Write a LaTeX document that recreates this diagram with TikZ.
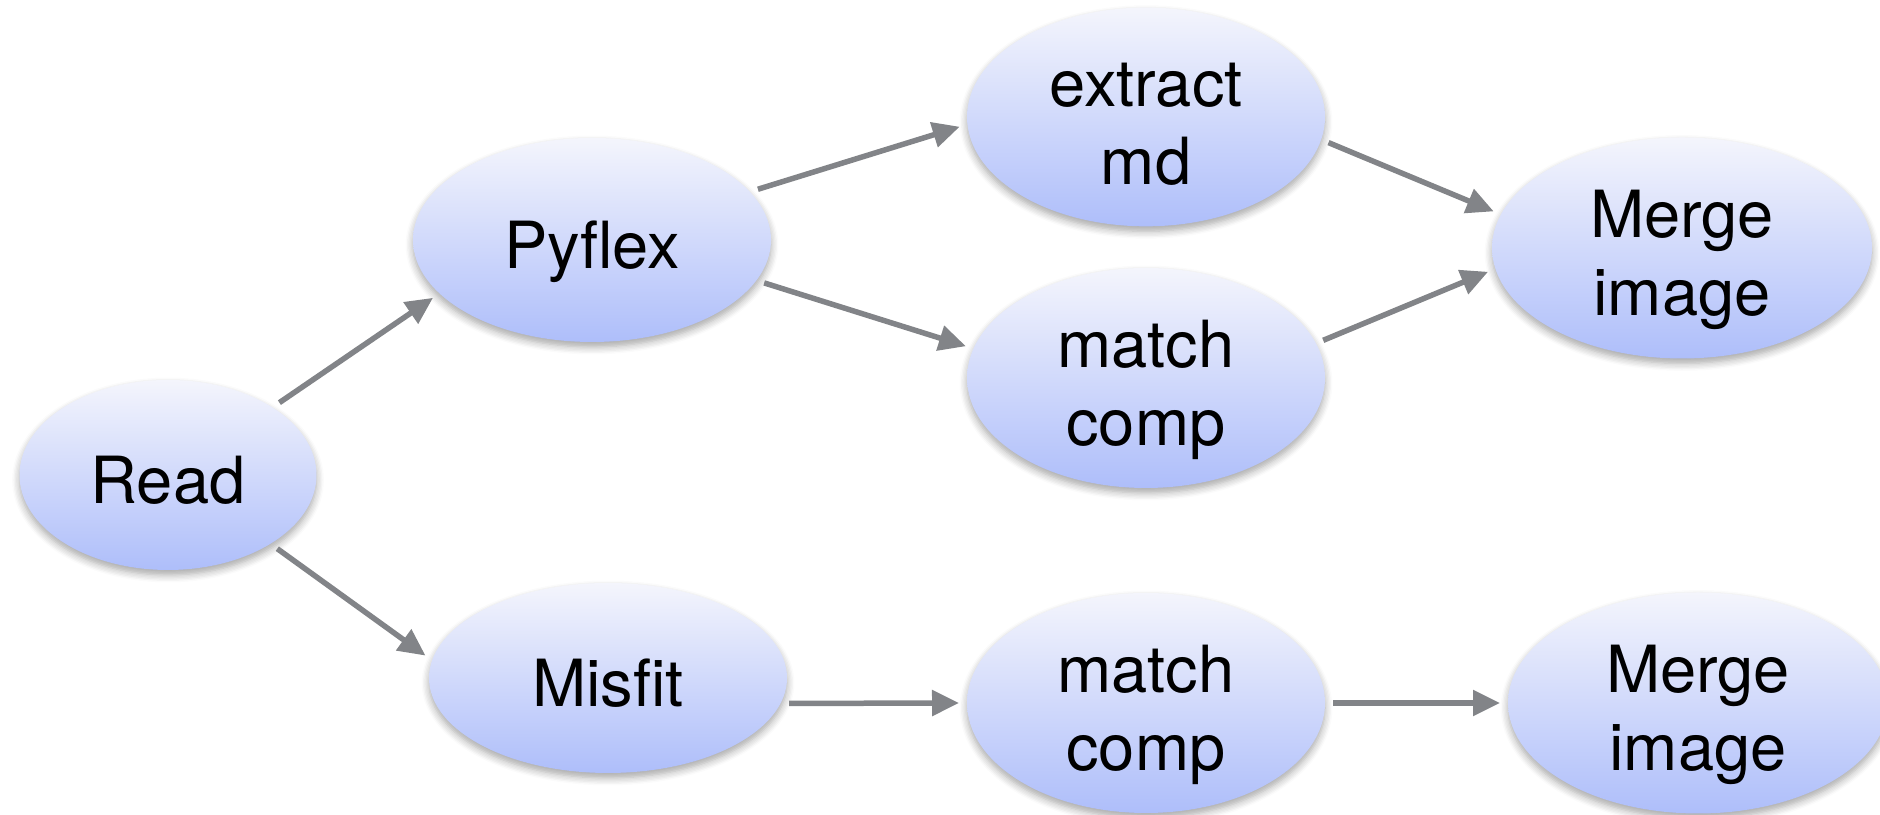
\documentclass[tikz,border=0pt]{standalone}
\usepackage{fontspec}
\setmainfont{TeX Gyre Heros}
\usetikzlibrary{shapes.geometric, arrows.meta, shadows.blur}
\definecolor{blobtop}{RGB}{244,245,252}
\definecolor{blobbottom}{RGB}{174,190,250}
\definecolor{arrowgray}{RGB}{130,132,136}
\newcommand{\ovaltext}[1]{\raisebox{-0.13cm}[\height][\depth]{\begin{tabular}{@{}c@{}}#1\end{tabular}}}

\begin{document}
\begin{tikzpicture}[
  blob/.style = {ellipse, inner sep = 0pt, outer sep = 0.08cm,
    minimum width = 3.58cm, minimum height = 2.1cm,
    top color = blobtop, bottom color = blobbottom,
    blur shadow = {shadow xshift = 0pt, shadow yshift = -0.05cm, shadow opacity = 35, shadow blur steps = 6},
    font = \fontsize{18.5}{22}\selectfont},
  link/.style = {-{Triangle[length = 0.27cm, width = 0.25cm]}, arrowgray, line width = 0.055cm}]
  \useasboundingbox (0, 0) rectangle (18.8, 8.15);

  \node[blob, minimum width = 2.97cm, minimum height = 1.9cm] (read) at (1.68, 3.40) {\ovaltext{Read}};
  \node[blob, minimum height = 2.04cm] (pyflex) at (5.92, 5.75) {\ovaltext{Pyflex}};
  \node[blob, minimum height = 2.03cm] (extract) at (11.46, 6.98) {\ovaltext{extract\\md}};
  \node[blob, minimum height = 2.2cm] (matchA) at (11.46, 4.37) {\ovaltext{match\\comp}};
  \node[blob, minimum width = 3.8cm, minimum height = 2.21cm] (mergeA) at (16.82, 5.67) {\ovaltext{Merge\\image}};
  \node[blob, minimum height = 1.9cm] (misfit) at (6.08, 1.37) {\ovaltext{Misfit}};
  \node[blob, minimum height = 2.2cm] (matchB) at (11.46, 1.12) {\ovaltext{match\\comp}};
  \node[blob, minimum width = 3.8cm, minimum height = 2.21cm] (mergeB) at (16.98, 1.12) {\ovaltext{Merge\\image}};

  \draw[link] (read.33) -- (pyflex.200);
  \draw[link] (pyflex.17) -- (extract.183);
  \draw[link] (pyflex.-14) -- (matchA.170);
  \draw[link] (extract.-8) -- (mergeA.169);
  \draw[link] (matchA.12) -- (mergeA.187);
  \draw[link] (read.-34) -- (misfit.173);
  \draw[link] (misfit.-8) -- (matchB.180);
  \draw[link] (matchB.0) -- (mergeB.180);
\end{tikzpicture}
\end{document}
